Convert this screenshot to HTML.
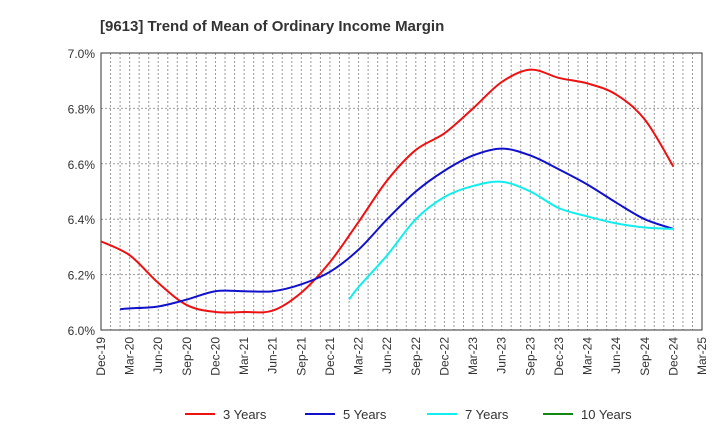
<!DOCTYPE html>
<html><head><meta charset="utf-8"><style>
body{margin:0;background:#fff;font-family:"Liberation Sans",sans-serif}
</style></head><body>
<svg id="chart" width="720" height="440" xmlns="http://www.w3.org/2000/svg">
<text x="100" y="31" font-size="15" font-weight="bold" fill="#333">[9613]  Trend of Mean of Ordinary Income Margin</text>
<g id="grid"></g>
<g id="axes"></g>
<g id="series"></g>
<g id="legend"></g>
</svg>
<script>
const xLabels=["Dec-19","Mar-20","Jun-20","Sep-20","Dec-20","Mar-21","Jun-21","Sep-21","Dec-21","Mar-22","Jun-22","Sep-22","Dec-22","Mar-23","Jun-23","Sep-23","Dec-23","Mar-24","Jun-24","Sep-24","Dec-24","Mar-25"];
const yTicks=[6.0,6.2,6.4,6.6,6.8,7.0];
const seriesNames=["3 Years","5 Years","7 Years","10 Years"];
const seriesColors=["#ee1111","#1111cc","#11eeee","#118811"];
// months since Dec-19
const s3Months=[0,3,6,9,12,15,18,21,24,27,30,33,36,39,42,45,48,51,54,57,60];
const s3=[6.32,6.27,6.17,6.09,6.065,6.065,6.07,6.135,6.245,6.39,6.54,6.65,6.71,6.80,6.895,6.94,6.91,6.89,6.85,6.76,6.59];
const s5Months=[2,3,6,9,12,15,18,21,24,27,30,33,36,39,42,45,48,51,54,57,60];
const s5=[6.075,6.078,6.085,6.11,6.14,6.14,6.14,6.165,6.21,6.29,6.40,6.50,6.575,6.63,6.655,6.63,6.58,6.525,6.46,6.40,6.365];
const s7Months=[26,27,30,33,36,39,42,45,48,51,54,57,60];
const s7=[6.11,6.155,6.27,6.40,6.48,6.52,6.535,6.50,6.44,6.41,6.385,6.37,6.365];
const s10Months=[];
const s10=[];
const allSeries=[[s3Months,s3],[s5Months,s5],[s7Months,s7],[s10Months,s10]];

const NS="http://www.w3.org/2000/svg";
const L=101,R=702,T=53,B=330,yMin=6.0,yMax=7.0;
const mw=(R-L)/((xLabels.length-1)*3);
const xs=m=>L+m*mw;
const ys=v=>B-(v-yMin)/(yMax-yMin)*(B-T);
function mk(tag,attrs,parent){const e=document.createElementNS(NS,tag);for(const k in attrs)e.setAttribute(k,attrs[k]);parent.appendChild(e);return e;}
const grid=document.getElementById('grid'),axes=document.getElementById('axes'),ser=document.getElementById('series'),leg=document.getElementById('legend');
for(let m=1;m<(xLabels.length-1)*3;m++){
  const x=xs(m);
  const g=mk('line',{x1:x,x2:x,y1:T,y2:B,stroke:'#999','stroke-dasharray':'2,2','stroke-width':1},grid);
  
  
}
yTicks.forEach(v=>{
  const y=ys(v);
  if(v>yMin&&v<yMax){const g=mk('line',{x1:L,x2:R,y1:y,y2:y,stroke:'#999','stroke-dasharray':'2,2'},grid);
  
  }
  const t=mk('text',{x:L-6,y:y+5,'text-anchor':'end','font-size':12,fill:'#333'},axes);
  t.textContent=v.toFixed(1)+'%';
  
  
});
const frame=mk('rect',{x:L,y:T,width:R-L,height:B-T,fill:'none',stroke:'#333','stroke-width':1},axes);


xLabels.forEach((lab,i)=>{
  const x=xs(i*3);
  const t=mk('text',{x:0,y:0,transform:`translate(${x+4},${B+7}) rotate(-90)`,'text-anchor':'end','font-size':12,fill:'#333'},axes);
  t.textContent=lab;
  
  
});
function pathFor(ms,arr){
  const p=[];arr.forEach((v,i)=>{if(v!=null)p.push([xs(ms[i]),ys(v)]);});
  if(p.length<2)return '';
  let d=`M${p[0][0]},${p[0][1]}`;
  for(let i=0;i<p.length-1;i++){
    const p0=p[Math.max(0,i-1)],p1=p[i],p2=p[i+1],p3=p[Math.min(p.length-1,i+2)];
    const c1=[p1[0]+(p2[0]-p0[0])/6,p1[1]+(p2[1]-p0[1])/6];
    const c2=[p2[0]-(p3[0]-p1[0])/6,p2[1]-(p3[1]-p1[1])/6];
    d+=` C${c1[0]},${c1[1]} ${c2[0]},${c2[1]} ${p2[0]},${p2[1]}`;
  }
  return d;
}
allSeries.forEach((s,k)=>{
  const d=pathFor(s[0],s[1]);if(!d)return;
  const p=mk('path',{d:d,fill:'none',stroke:seriesColors[k],'stroke-width':2},ser);
  
  
});
const lx=[185,305,427,543];
seriesNames.forEach((n,k)=>{
  const l=mk('line',{x1:lx[k],x2:lx[k]+30,y1:414,y2:414,stroke:seriesColors[k],'stroke-width':2},leg);
  
  
  const t=mk('text',{x:lx[k]+38,y:419,'font-size':13,fill:'#333'},leg);
  t.textContent=n;
  
  
});
</script>
</body></html>
